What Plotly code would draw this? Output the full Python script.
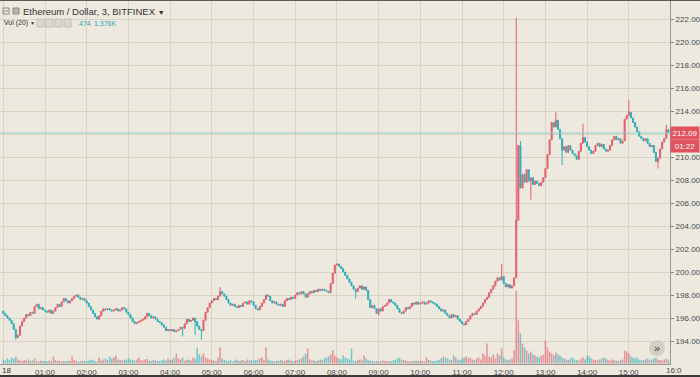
import plotly.graph_objects as go
import pandas as pd

# ---------------- data (3-minute candles, 18 Sep 2018, from 00:00) ----------------
first_open = 196.6
closes = [
    # 00:00
    196.4, 196.2, 196.0, 195.8, 195.5, 195.0, 194.3, 194.5, 195.3, 195.7,
    196.0, 196.3, 196.2, 196.5, 196.4, 197.0, 197.2, 196.8, 196.9, 196.7,
    # 01:00
    196.6, 196.5, 196.7, 196.4, 196.6, 196.9, 197.2, 197.0, 197.4, 197.7,
    197.5, 197.3, 197.5, 197.7, 197.9, 198.0, 197.8, 197.6, 197.7, 197.5,
    # 02:00
    197.3, 197.0, 196.7, 196.4, 196.1, 195.9, 196.2, 196.6, 196.8, 196.7,
    196.8, 196.7, 196.6, 196.7, 196.8, 196.6, 196.7, 196.9, 196.8, 196.5,
    # 03:00
    196.3, 196.0, 195.7, 195.5, 195.6, 195.7, 195.8, 195.9, 196.1, 196.4,
    196.2, 196.0, 196.1, 195.9, 195.7, 195.6, 195.4, 195.2, 194.9, 195.0,
    # 04:00
    194.9, 195.0, 194.8, 194.9, 195.0, 195.2, 195.1, 195.5, 195.9, 195.7,
    195.8, 196.0, 195.7, 195.3, 195.0, 194.9, 195.8, 196.5, 196.9, 197.3,
    # 05:00
    197.5, 197.7, 197.6, 197.9, 198.3, 198.1, 197.9, 197.6, 197.3, 197.1,
    197.2, 197.0, 196.9, 197.1, 197.0, 197.3, 197.4, 197.2, 197.5, 197.4,
    # 06:00
    197.1, 196.8, 196.7, 197.0, 197.3, 197.6, 198.0, 197.9, 197.5, 197.3,
    197.4, 197.2, 197.1, 197.2, 197.0, 197.5, 197.7, 197.6, 197.8, 197.7,
    # 07:00
    198.0, 198.2, 198.1, 198.3, 198.1, 197.8, 198.1, 198.3, 198.2, 198.4,
    198.3, 198.5, 198.4, 198.5, 198.4, 198.3, 198.2, 199.0, 199.9, 200.6,
    # 08:00
    200.7, 200.5, 200.3, 200.0, 199.7, 199.4, 199.1, 198.8, 198.5, 198.3,
    198.6, 198.8, 198.5, 198.7, 198.4, 197.6, 196.9, 197.1, 196.8, 196.4,
    # 09:00
    196.8, 196.6, 197.0, 197.1, 197.3, 197.6, 197.4, 197.3, 197.1, 196.8,
    196.5, 196.4, 196.6, 196.9, 196.8, 197.0, 197.3, 197.2, 197.4, 197.2,
    # 10:00
    197.3, 197.4, 197.2, 197.3, 197.5, 197.4, 197.3, 197.2, 197.0, 196.8,
    196.6, 196.7, 196.4, 196.2, 196.0, 196.3, 196.1, 196.2, 195.9, 195.7,
    # 11:00
    195.5, 195.4, 195.7, 195.9, 196.2, 196.4, 196.3, 196.6, 196.8, 197.0,
    197.3, 197.6, 197.8, 198.2, 198.5, 198.8, 199.2, 199.5, 199.3, 199.6,
    # 12:00
    199.0, 198.7, 198.9, 198.6, 198.8, 199.5, 204.5, 211.0, 207.3, 208.5,
    207.8, 208.9, 207.9, 208.2, 207.6, 207.9, 207.7, 207.5, 207.8, 208.2,
    # 13:00
    209.0, 210.2, 211.5, 213.0, 212.6, 213.2, 212.4, 211.6, 210.6, 210.9,
    210.4, 211.0, 210.6, 210.3, 210.1, 209.8, 210.5, 211.2, 211.7, 211.3,
    # 14:00
    210.9, 210.6, 210.3, 210.5, 211.0, 211.2, 210.9, 211.1, 210.7, 210.5,
    210.6, 211.0, 211.5, 211.8, 211.5, 211.6, 211.2, 211.4, 213.3, 213.6,
    # 15:00
    213.9, 213.4, 213.0, 212.6, 212.2, 211.8, 211.6, 211.4, 211.6, 211.2,
    210.9, 211.0, 210.4, 209.6, 209.9, 210.7, 211.3, 211.6, 212.4, 212.09,
]
wick_high = {104: 198.7, 239: 200.7, 246: 222.1, 248: 211.4, 265: 213.9,
             278: 212.9, 300: 215.0, 318: 212.8}
wick_low = {6: 194.1, 86: 194.4, 92: 194.5, 95: 194.1, 169: 197.7, 180: 196.2,
            253: 206.3, 268: 209.3, 314: 209.0}
volumes = [
    520, 390, 650, 460, 780, 600, 910, 520, 390, 330, 460, 390, 520, 330, 390, 650, 300, 260, 390, 330,
    330, 260, 390, 300, 910, 460, 330, 390, 260, 330, 300, 390, 330, 910, 460, 330, 260, 300, 390, 330,
    300, 390, 460, 520, 330, 260, 780, 390, 520, 650, 460, 910, 650, 780, 1040, 520, 460, 390, 520, 460,
    650, 520, 460, 390, 520, 780, 460, 390, 520, 600, 390, 330, 460, 390, 330, 300, 460, 520, 390, 650,
    460, 520, 780, 1300, 650, 520, 780, 390, 460, 520, 390, 780, 650, 2080, 1170, 910, 1300, 780, 650, 520,
    460, 390, 330, 780, 2080, 650, 460, 390, 330, 460, 260, 390, 520, 330, 390, 460, 330, 520, 390, 460,
    390, 460, 520, 650, 780, 460, 2080, 520, 390, 330, 260, 390, 330, 460, 390, 330, 460, 520, 390, 330,
    390, 460, 520, 650, 910, 1300, 1950, 520, 390, 460, 330, 390, 520, 460, 650, 780, 910, 1170, 1690, 1040,
    780, 650, 520, 1040, 780, 650, 520, 1950, 390, 330, 460, 520, 390, 1040, 650, 460, 390, 330, 260, 330,
    300, 260, 390, 330, 260, 330, 300, 390, 460, 650, 780, 520, 460, 390, 330, 260, 300, 330, 390, 330,
    390, 330, 260, 780, 460, 390, 330, 300, 390, 460, 650, 910, 780, 650, 520, 460, 1040, 780, 520, 460,
    650, 780, 910, 650, 780, 520, 460, 650, 780, 520, 1300, 1040, 2600, 910, 780, 1170, 650, 1300, 1040, 1950,
    780, 520, 460, 520, 650, 1690, 9500, 5600, 3900, 2600, 2080, 1690, 1300, 1560, 1170, 1040, 910, 780, 1040, 1170,
    2990, 2080, 1560, 1300, 1040, 1430, 1170, 1040, 780, 650, 520, 460, 650, 780, 520, 460, 390, 650, 780, 520,
    1040, 910, 650, 520, 460, 390, 520, 650, 780, 650, 460, 390, 520, 460, 390, 330, 460, 520, 1690, 1560,
    1300, 910, 780, 650, 780, 520, 460, 390, 520, 650, 460, 520, 650, 780, 520, 460, 390, 520, 650, 474,
]
time_tick_labels = ["18", "01:00", "02:00", "03:00", "04:00", "05:00", "06:00", "07:00",
                    "08:00", "09:00", "10:00", "11:00", "12:00", "13:00", "14:00", "15:00", "16:0"]
price_ticks = [194, 196, 198, 200, 202, 204, 206, 208, 210, 212, 214, 216, 218, 220, 222]
last_price = 212.09
countdown = "01:22"

# ---------------- build OHLC ----------------
times = pd.date_range("2018-09-18 00:00", periods=len(closes), freq="3min")
opens = [first_open] + closes[:-1]
highs = [max(o, c, wick_high.get(i, c)) for i, (o, c) in enumerate(zip(opens, closes))]
lows = [min(o, c, wick_low.get(i, c)) for i, (o, c) in enumerate(zip(opens, closes))]

UP = "#E2606B"
DOWN = "#2EAEB8"
UP_V = "rgba(226,96,107,0.62)"
DOWN_V = "rgba(46,174,184,0.62)"
BG = "#EDE9DF"
GRID = "#D9D3C6"
FONT = "Liberation Sans, Arial, sans-serif"

vol_colors = [UP_V if c >= o else DOWN_V for o, c in zip(opens, closes)]

fig = go.Figure()
fig.add_trace(go.Bar(x=times, y=volumes, marker=dict(color=vol_colors, line=dict(width=0)),
                     yaxis="y", hoverinfo="skip"))
fig.add_trace(go.Candlestick(
    x=times, open=opens, high=highs, low=lows, close=closes, yaxis="y2",
    increasing=dict(line=dict(color=UP, width=1), fillcolor=UP),
    decreasing=dict(line=dict(color=DOWN, width=1), fillcolor=DOWN),
    whiskerwidth=0,
))

step = pd.Timedelta(minutes=3)
x0 = times[0] - step * 1.58
x1 = times[0] + step * 319.75
tick_times = [times[0] + pd.Timedelta(hours=h) for h in range(15)]
tick_text_x = [""] + time_tick_labels[1:15]
price_text = ["" if v == 212 else f"{v:.2f}" for v in price_ticks]

PLOT_H = 364
fig.update_layout(
    width=700, height=377,
    margin=dict(l=0, r=30, t=0, b=13),
    paper_bgcolor=BG, plot_bgcolor=BG,
    showlegend=False,
    bargap=0.25,
    font=dict(family=FONT, color="#4a4a4a"),
    xaxis=dict(type="date", range=[x0, x1], tickvals=tick_times + [times[0] + pd.Timedelta(hours=15)],
               ticktext=tick_text_x + [time_tick_labels[15]],
               showgrid=True, gridcolor=GRID, gridwidth=1, zeroline=False,
               tickfont=dict(size=8, color="#4a4a4a", family=FONT), ticks="",
               showline=True, linecolor="#9c978c", linewidth=1,
               rangeslider=dict(visible=False), fixedrange=True),
    yaxis=dict(range=[-65, 47255], visible=False, showgrid=False, fixedrange=True),
    yaxis2=dict(overlaying="y", side="right", range=[192.0, 223.652],
                tickvals=price_ticks, ticktext=price_text,
                showgrid=True, gridcolor=GRID, gridwidth=1, zeroline=False,
                tickfont=dict(size=8, color="#4a4a4a", family=FONT),
                ticks="outside", ticklen=3, tickcolor="#8c877c",
                showline=True, linecolor="#9c978c", linewidth=1, fixedrange=True),
)

def py(y):
    return (PLOT_H - y) / PLOT_H

def px(x):
    return x / 670.0

shapes = [
    # last price line
    dict(type="line", xref="paper", x0=0, x1=1, yref="y2", y0=last_price, y1=last_price,
         line=dict(color="#8FCFCF", width=1)),
    # frame lines
    dict(type="line", xref="paper", x0=0, x1=700 / 670, yref="paper", y0=py(376), y1=py(376),
         line=dict(color="#3a3a3a", width=2)),
    dict(type="line", xref="paper", x0=0, x1=700 / 670, yref="paper", y0=py(0.5), y1=py(0.5),
         line=dict(color="#5a5a5a", width=1)),
    # "»" button
    dict(type="circle", xref="paper", yref="paper", x0=px(649), x1=px(665), y0=py(356), y1=py(340),
         fillcolor="rgba(205,200,190,0.8)", line=dict(width=0)),
]
# header icons
shapes.append(dict(type="rect", xref="paper", yref="paper", x0=px(3), x1=px(9), y0=py(14), y1=py(8),
                   line=dict(color="#8a8a8a", width=1)))
shapes.append(dict(type="line", xref="paper", yref="paper", x0=px(4), x1=px(8), y0=py(11), y1=py(11),
                   line=dict(color="#8a8a8a", width=1)))
shapes.append(dict(type="rect", xref="paper", yref="paper", x0=px(13), x1=px(19), y0=py(14), y1=py(8),
                   fillcolor="#b9b5ab", line=dict(color="#8a8a8a", width=1)))
for k in range(4):
    shapes.append(dict(type="rect", xref="paper", yref="paper",
                       x0=px(37 + 9 * k), x1=px(44 + 9 * k), y0=py(27), y1=py(19),
                       fillcolor="#DCD8CF", line=dict(color="#C2BEB5", width=1)))
fig.update_layout(shapes=shapes)

ann = [
    dict(text="Ethereum / Dollar, 3, BITFINEX <span style='font-size:7px'>\u25bc</span>",
         xref="paper", yref="paper",
         x=px(21), y=py(11), xanchor="left", yanchor="middle", showarrow=False,
         font=dict(size=9.5, color="#333333", family=FONT)),
    dict(text="Vol (20) <span style='font-size:5px'>\u25bc</span>", xref="paper", yref="paper", x=px(2), y=py(23),
         xanchor="left", yanchor="middle", showarrow=False,
         font=dict(size=7, color="#333333", family=FONT)),
    dict(text="474", xref="paper", yref="paper", x=px(77), y=py(23),
         xanchor="left", yanchor="middle", showarrow=False,
         font=dict(size=7, color="#2AA6B6", family=FONT)),
    dict(text="1.376K", xref="paper", yref="paper", x=px(92), y=py(23),
         xanchor="left", yanchor="middle", showarrow=False,
         font=dict(size=7, color="#2AA6B6", family=FONT)),
    dict(text="\u00bb", xref="paper", yref="paper", x=px(657), y=py(348),
         xanchor="center", yanchor="middle", showarrow=False,
         font=dict(size=11, color="#333333", family=FONT)),
    dict(text=f"{last_price:.2f}", xref="paper", yref="y2", x=1.0, y=last_price,
         xanchor="left", yanchor="middle", showarrow=False, bgcolor="#E0525E",
         borderpad=1, font=dict(size=8, color="white", family=FONT), width=26, height=10),
    dict(text=countdown, xref="paper", yref="y2", x=1.0, y=last_price, yshift=-13,
         xanchor="left", yanchor="middle", showarrow=False, bgcolor="#E0525E",
         borderpad=1, font=dict(size=8, color="white", family=FONT), width=26, height=10),
    # first (date) label and the clipped 16:00 label at the two ends of the time axis
    dict(text=time_tick_labels[0], xref="paper", yref="paper", x=0, y=py(370.5),
         xanchor="left", yanchor="middle", showarrow=False,
         font=dict(size=8, color="#333333", family=FONT)),
    dict(text=time_tick_labels[16], xref="paper", yref="paper", x=px(664), y=py(370.5),
         xanchor="left", yanchor="middle", showarrow=False,
         font=dict(size=8, color="#4a4a4a", family=FONT)),
]
fig.update_layout(annotations=ann)

fig.write_html("out.html", config={"displayModeBar": False},
               post_script="document.body.style.margin='0';document.body.style.overflow='hidden';")
